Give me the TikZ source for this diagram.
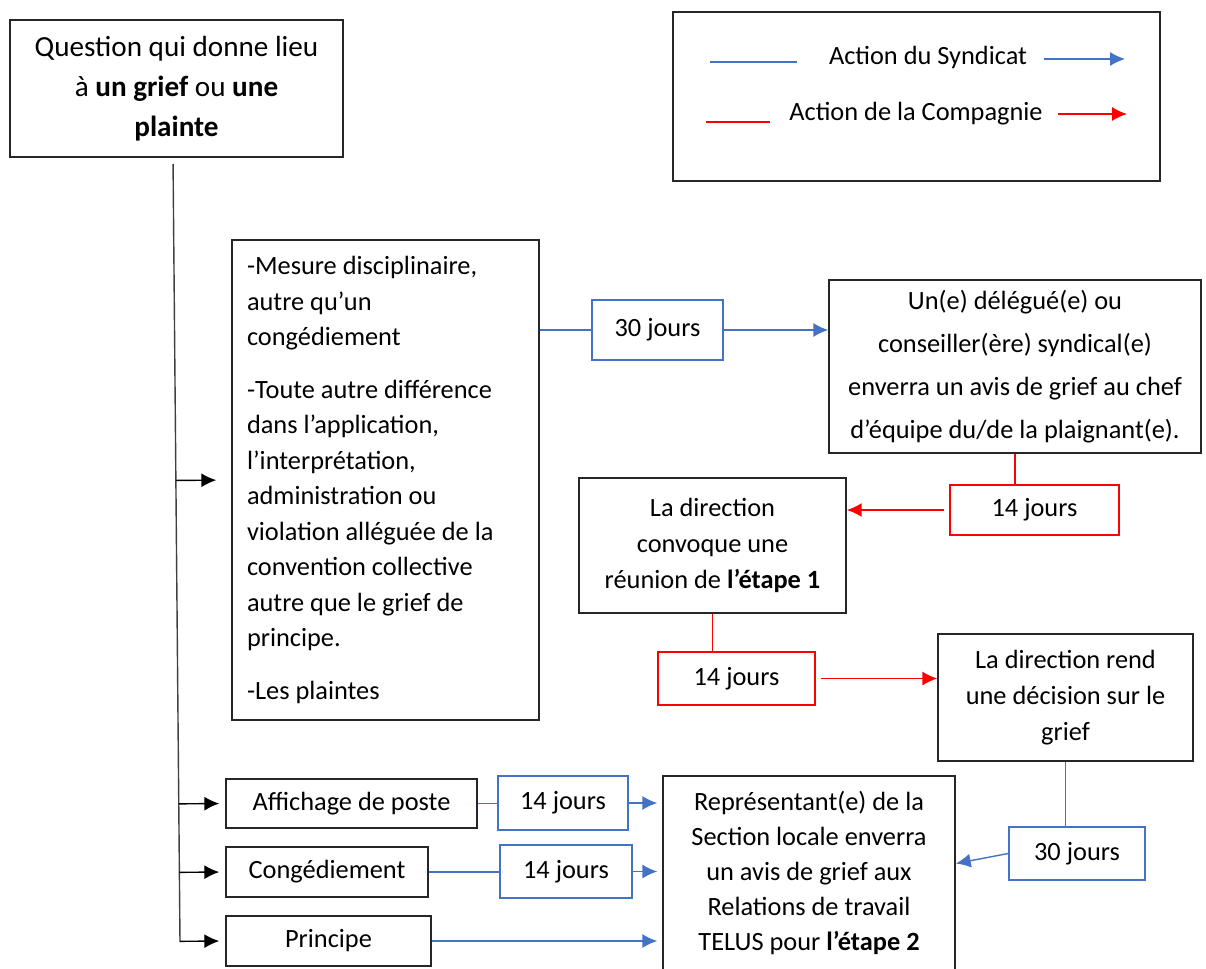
\documentclass[tikz,border=0pt]{standalone}
\usepackage{fontspec}
\setmainfont{Carlito}
\usetikzlibrary{arrows.meta,calc}
\definecolor{syndicat}{HTML}{4472C4}
\definecolor{compagnie}{HTML}{FF0000}

\begin{document}
\begin{tikzpicture}[x=0.02cm, y=-0.02cm, >={Latex[length=8.5pt,width=8pt]},
    font=\fontsize{15}{20}\selectfont,
    box/.style={draw=black!85, line width=0.9pt, align=center, inner sep=0pt},
    delaiS/.style={draw=syndicat, line width=0.9pt, inner sep=0pt},
    delaiC/.style={draw=compagnie, line width=0.9pt, inner sep=0pt},
    lienS/.style={draw=syndicat, line width=0.8pt},
    lienC/.style={draw=compagnie, line width=0.9pt}]

    \useasboundingbox (0,0) rectangle (1206,969);

    % Question de depart
    \node[box, minimum width=6.66cm, minimum height=2.74cm, font=\fontsize{16.6}{22.7}\selectfont] (Question) at (176.5,88.5)
        {Question qui donne lieu\\ à \textbf{un grief} ou \textbf{une}\\ \textbf{plainte}};

    % Legende
    \node[box, minimum width=9.74cm, minimum height=3.38cm] (Legende) at (916.5,96.5) {};
    \node (LegS) at (928,57) {Action du Syndicat};
    \node (LegC) at (916,114) {Action de la Compagnie};
    \coordinate (LegS-1) at (710,62);  \coordinate (LegS-2) at (797,62);
    \coordinate (LegS-3) at (1044,59); \coordinate (LegS-4) at (1125,59);
    \coordinate (LegC-1) at (706,122); \coordinate (LegC-2) at (770,122);
    \coordinate (LegC-3) at (1058,114); \coordinate (LegC-4) at (1127,114);
    \draw[lienS] (LegS-1) -- (LegS-2);
    \draw[lienS, ->] (LegS-3) -- (LegS-4);
    \draw[lienC] (LegC-1) -- (LegC-2);
    \draw[lienC, ->] (LegC-3) -- (LegC-4);

    % Branches
    \node[box, align=flush left, text width=5.54cm, inner xsep=0.3cm, minimum width=6.14cm, minimum height=9.6cm,
        font=\fontsize{15}{20.2}\selectfont] (Mesures) at (385.5,480)
        {-Mesure disciplinaire,\\ autre qu’un\\ congédiement\\[0.34cm]
         -Toute autre différence\\ dans l’application,\\ l’interprétation,\\ administration ou\\
         violation alléguée de la\\ convention collective\\ autre que le grief de\\ principe.\\[0.34cm]
         -Les plaintes};
    \node[box, minimum width=5.02cm, minimum height=0.98cm] (Affichage) at (351.5,803.5) {Affichage de poste};
    \node[box, minimum width=4.04cm, minimum height=1cm] (Conge) at (327,872) {Congédiement};
    \node[box, minimum width=4.1cm, minimum height=1cm] (Principe) at (328.5,941) {Principe};

    % Etapes
    \node[box, minimum width=7.44cm, minimum height=3.46cm, font=\fontsize{15}{24.4}\selectfont] (Delegue) at (1015,366.5)
        {Un(e) délégué(e) ou\\ conseiller(ère) syndical(e)\\ enverra un avis de grief au chef\\ d’équipe du/de la plaignant(e).};
    \node[box, minimum width=5.34cm, minimum height=2.7cm, font=\fontsize{15}{20.7}\selectfont] (Etape1) at (712.5,545.5)
        {La direction\\ convoque une\\ réunion de \textbf{l’étape 1}};
    \node[box, minimum width=5.1cm, minimum height=2.54cm, font=\fontsize{15}{20.5}\selectfont] (Decision) at (1065.5,697.5)
        {La direction rend\\ une décision sur le\\ grief};
    \node[box, minimum width=5.84cm, minimum height=3.88cm, font=\fontsize{15}{20}\selectfont] (Etape2) at (809,873)
        {Représentant(e) de la\\ Section locale enverra\\ un avis de grief aux\\ Relations de travail\\ TELUS pour \textbf{l’étape 2}};

    % Delais
    \node[delaiS, minimum width=2.62cm, minimum height=1.2cm] (S30a) at (657.5,330) {30 jours};
    \node[delaiC, minimum width=3.38cm, minimum height=1cm] (C14a) at (1034.5,510) {14 jours};
    \node[delaiC, minimum width=3.14cm, minimum height=1.06cm] (C14b) at (736.5,678.5) {14 jours};
    \node[delaiS, minimum width=2.72cm, minimum height=1.06cm] (S30b) at (1077,853.5) {30 jours};
    \node[delaiS, minimum width=2.6cm, minimum height=1.08cm] (S14a) at (563,803) {14 jours};
    \node[delaiS, minimum width=2.64cm, minimum height=1.06cm] (S14b) at (566,871.5) {14 jours};

    % Tronc commun
    \coordinate (TroncFin) at (180,942);
    \draw[black!75, line width=0.8pt, shorten <=0.12cm] (Question.south) ++(-3.5,0) coordinate (TroncDebut) -- (TroncFin);
    \foreach \n/\g in {Mesures/0.3cm, Affichage/0.12cm, Conge/0.12cm, Principe/0.12cm}
    {
        \draw[->, line width=0.8pt, shorten >=\g] ($(TroncDebut)!(\n.west)!(TroncFin)$) -- (\n.west);
    }

    % Action du Syndicat
    \draw[lienS] (Mesures.east |- S30a.west) -- (S30a.west);
    \draw[lienS, ->] (S30a.east) -- (S30a.east -| Delegue.west);
    \draw[lienS] (Affichage.east) -- (Affichage.east -| S14a.west);
    \draw[lienS, ->, shorten >=0.1cm] (S14a.east) -- (S14a.east -| Etape2.west);
    \draw[lienS] (Conge.east) -- (Conge.east -| S14b.west);
    \draw[lienS, ->, shorten >=0.1cm] (S14b.east) -- (S14b.east -| Etape2.west);
    \draw[lienS, ->, shorten >=0.1cm] (Principe.east) -- (Principe.east -| Etape2.west);
    \draw[lienS] (Decision.south) -- (Decision.south |- S30b.north);
    \draw[lienS, ->] (S30b.west) -- ([yshift=-0.2cm]Etape2.east |- S30b.west);

    % Action de la Compagnie
    \draw[lienC] (Delegue.south) -- (Delegue.south |- C14a.north);
    \draw[lienC, ->, shorten <=0.1cm] (C14a.west) -- (C14a.west -| Etape1.east);
    \draw[lienC] (Etape1.south) -- (Etape1.south |- C14b.north);
    \draw[lienC, ->, shorten <=0.1cm] (C14b.east) -- (C14b.east -| Decision.west);
\end{tikzpicture}
\end{document}
